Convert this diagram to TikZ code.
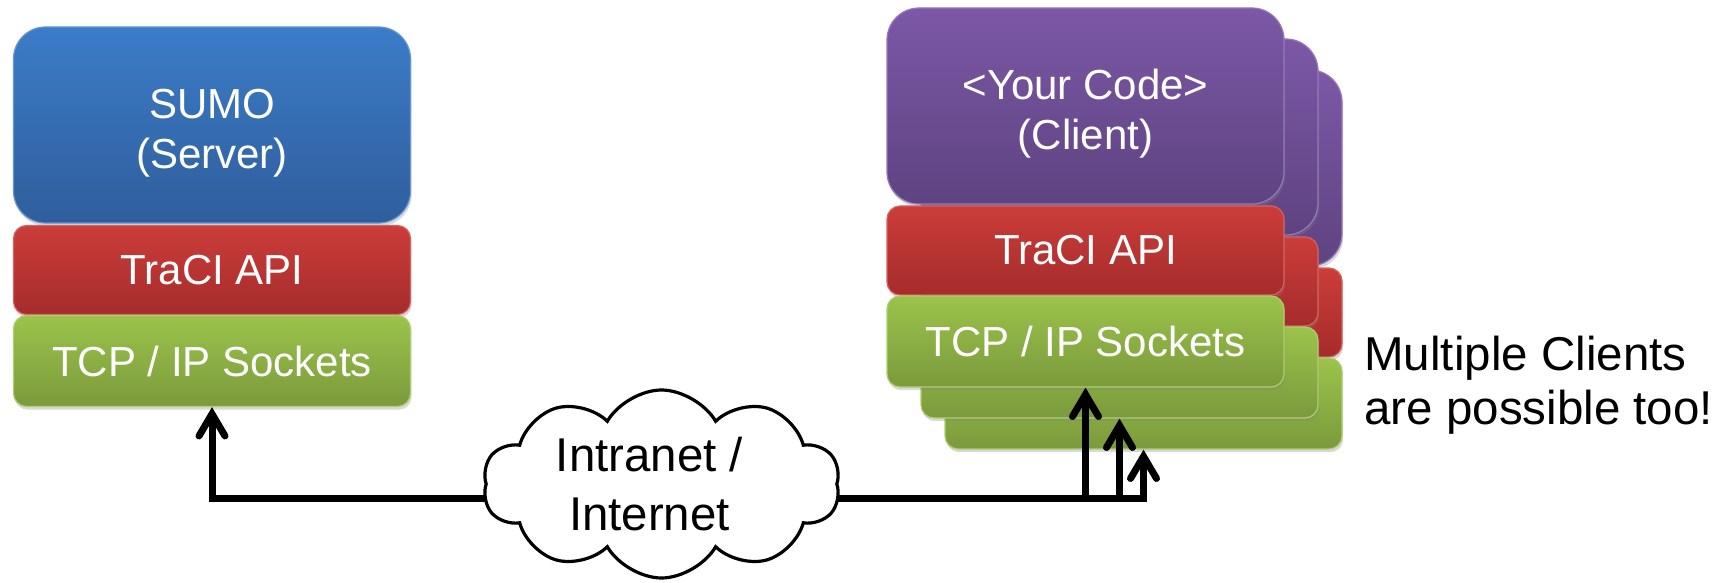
\documentclass[tikz,border=0pt]{standalone}
\usepackage{fontspec}
\setmainfont{Liberation Sans}
\usetikzlibrary{shapes,shapes.symbols,arrows.meta,shadows}
\pgfdeclarelayer{front}
\pgfsetlayers{main,front}

\definecolor{srvtop}{HTML}{3C7CC8}
\definecolor{srvbot}{HTML}{2F5E9C}
\definecolor{clitop}{HTML}{7C58A6}
\definecolor{clibot}{HTML}{5E4381}
\definecolor{apitop}{HTML}{CB3D3A}
\definecolor{apibot}{HTML}{A52C2B}
\definecolor{tcptop}{HTML}{9BC34B}
\definecolor{tcpbot}{HTML}{7B9A3C}

% two centred lines, moved up or down
\newcommand{\twolines}[3]{\smash{\raisebox{#1}{\begin{tabular}{@{}c@{}}#2\\#3\end{tabular}}}}

\begin{document}
\begin{tikzpicture}[x=0.5pt, y=-0.5pt,
	layer/.style={rounded corners=6.5pt, minimum width=198.5pt, inner sep=0, line width=0.6pt, text=white, align=center, font=\fontsize{21}{25}\selectfont, drop shadow={opacity=0.3, shadow xshift=0.6pt, shadow yshift=-1.6pt}},
	srvbox/.style={layer, rounded corners=16pt, minimum height=98pt, top color=srvtop, bottom color=srvbot, draw=srvtop!80!white},
	clibox/.style={layer, rounded corners=16pt, minimum height=98pt, top color=clitop, bottom color=clibot, draw=clitop!80!white},
	apibox/.style={layer, minimum height=44.5pt, top color=apitop, bottom color=apibot, draw=apitop!80!white},
	tcpbox/.style={layer, minimum height=45.5pt, top color=tcptop, bottom color=tcpbot, draw=tcptop!80!white},
	link/.style={line width=3.5pt, -{Straight Barb[length=11pt, width=13pt, line cap=round]}}
]
\useasboundingbox (0,0) rectangle (1720,583);
%server side
\node[srvbox] (srv) at (212,125) {\twolines{-9.5pt}{SUMO}{(Server)}};
\node[apibox] (srvapi) at (212,270) {TraCI API};
\node[tcpbox] (srvtcp) at (212,361) {TCP / IP Sockets};
%further clients behind
\foreach \i/\dx/\dy in {3/58/62, 2/34/31} {
	\node[clibox] (cli\i) at (1085.5+\dx, 106+\dy) {};
	\node[apibox] (api\i) at (1085.5+\dx, 250.5+\dy) {};
	\node[tcpbox] (tcp\i) at (1085.5+\dx, 341.5+\dy) {};
}
\node[clibox] (cli1) at (1085.5,106) {\twolines{-9.5pt}{<Your Code>}{(Client)}};
\node[apibox] (api1) at (1085.5,250.5) {TraCI API};
\node[tcpbox] (tcp1) at (1085.5,341.5) {TCP / IP Sockets};
\begin{pgfonlayer}{front}
\node[cloud, draw, fill=white, cloud puffs=10, cloud puff arc=120, aspect=1.9, minimum width=178.5pt, minimum height=94pt, inner sep=0, line width=1.6pt, font=\fontsize{23.7}{29.5}\selectfont] (net) at (661.5,484) {\kern-6pt\twolines{-9pt}{Intranet /}{Internet}\kern6pt};
\end{pgfonlayer}
\node[anchor=west, align=left, inner sep=0, font=\fontsize{23.75}{27}\selectfont] (note) at (1364,385) {Multiple Clients\\are possible too!};
\draw[link] ([yshift=-7pt]net.center) -| (srvtcp.south);
\foreach \i in {1,2,3}
	\draw[link] ([yshift=-7pt]net.center) -| (tcp\i.south);
\end{tikzpicture}
\end{document}
